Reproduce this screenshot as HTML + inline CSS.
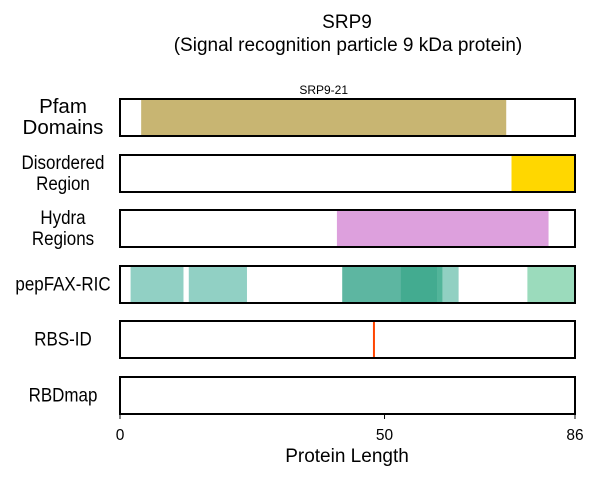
<!DOCTYPE html>
<html><head><meta charset="utf-8"><style>
body{margin:0;background:#fff;font-family:"Liberation Sans",Arial,sans-serif}
</style></head><body>
<svg id="c" width="600" height="480" xmlns="http://www.w3.org/2000/svg"></svg>
<script>
const proteinLength = 86;
const rowLabels = [["Pfam","Domains"],["Disordered","Region"],["Hydra","Regions"],["pepFAX-RIC"],["RBS-ID"],["RBDmap"]];
const pfamStart = [4]; const pfamEnd = [73]; const pfamNames = ["SRP9-21"];
const disStart = [74]; const disEnd = [86];
const hydraStart = [41]; const hydraEnd = [81];
const pepStart = [2, 13, 42, 53, 60, 61, 77];
const pepEnd = [12, 24, 53, 60, 61, 64, 86];
const pepColors = ["#91d0c4","#91d0c4","#5db6a1","#43ab90","#52b59a","#91d0c2","#9bdbbc"];
const rbsSites = [48];
const xTicks = [0, 50, 86];

const svg = document.getElementById('c');
const NS = "http://www.w3.org/2000/svg";
const x0 = 120, x1 = 575;
const xs = v => x0 + v / proteinLength * (x1 - x0);
const rowTop = [99, 155, 210, 266, 321, 377], rowH = 37;
function el(t, a, txt){const e=document.createElementNS(NS,t);for(const k in a)e.setAttribute(k,a[k]);if(txt!==undefined)e.textContent=txt;svg.appendChild(e);return e;}

let t = el('text',{x:347,y:28,'text-anchor':'middle','font-size':19},'SRP9');


t = el('text',{x:348,y:51,'text-anchor':'middle','font-size':19},'(Signal recognition particle 9 kDa protein)');



function rect(s,e,row,fill,name){
  const r = el('rect',{x:xs(s),y:rowTop[row],width:xs(e)-xs(s),height:rowH,fill:fill});
  
  
}
pfamStart.forEach((s,i)=>{
  rect(s,pfamEnd[i],0,'#c8b572','pfam-domain');
  const l = el('text',{x:(xs(s)+xs(pfamEnd[i]))/2,y:94,'text-anchor':'middle','font-size':12},pfamNames[i]);
  
  
});
disStart.forEach((s,i)=>rect(s,disEnd[i],1,'#ffd700','disordered-region'));
hydraStart.forEach((s,i)=>rect(s,hydraEnd[i],2,'#dda0dd','hydra-region'));
pepStart.forEach((s,i)=>rect(s,pepEnd[i],3,pepColors[i],'pepfax-segment'));
rbsSites.forEach(v=>{
  const l = el('line',{x1:xs(v),x2:xs(v),y1:rowTop[4],y2:rowTop[4]+rowH,stroke:'#ff4500','stroke-width':2});
  
  
});
rowLabels.forEach((lab,i)=>{
  const f = el('rect',{x:x0,y:rowTop[i],width:x1-x0,height:rowH,fill:'none',stroke:'#000','stroke-width':2});
  
  
  const cy = rowTop[i]+rowH/2;
  const fs = i===0?20.5:19.5;
  const sx = i===0?1:0.87;
  lab.forEach((line,j)=>{
    const yy = cy + 6 + (j - (lab.length-1)/2)*21;
    const tx = el('text',{x:63,y:yy,'text-anchor':'middle','font-size':fs,transform:`translate(63 ${yy}) scale(${sx} 1) translate(-63 ${-yy})`},line);
    
    
  });
});
const axisY = 414;
xTicks.forEach(v=>{
  const k = el('line',{x1:xs(v),x2:xs(v),y1:axisY,y2:axisY+5,stroke:'#000','stroke-width':1});
  
  
  const l = el('text',{x:xs(v),y:440,'text-anchor':'middle','font-size':15.5},String(v));
  
  
});
t = el('text',{x:347,y:462,'text-anchor':'middle','font-size':19},'Protein Length');


</script>
</body></html>
